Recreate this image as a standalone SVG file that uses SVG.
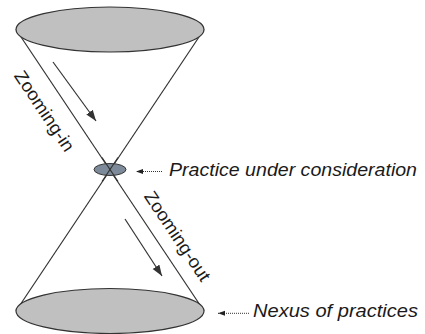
<svg xmlns="http://www.w3.org/2000/svg" width="425" height="334" viewBox="0 0 425 334">
<style>
.edge{stroke:#333;stroke-width:1.2;fill:none}
.cone{stroke:#333;stroke-width:1.2;fill:#c0c0c0}
.lbl{font-family:"Liberation Sans",Arial,sans-serif;font-size:18px;font-style:italic;fill:#1a1a1a}
.side{font-family:"Liberation Sans",Arial,sans-serif;font-size:18px;fill:#1a1a1a}
.flow{stroke:#333;stroke-width:1.2;fill:none;marker-end:url(#big)}
.dot{stroke:#333;stroke-width:1;stroke-dasharray:1 1;fill:none;marker-end:url(#small)}
</style>
<defs>
<marker id="big" markerUnits="userSpaceOnUse" markerWidth="12" markerHeight="10" viewBox="0 0 12 10" refX="11" refY="5" orient="auto">
<path d="M0,1 L11,5 L0,9 Z" fill="#333"/>
</marker>
<marker id="small" markerUnits="userSpaceOnUse" markerWidth="8" markerHeight="6" viewBox="0 0 8 6" refX="7" refY="3" orient="auto">
<path d="M0,0.5 L7,3 L0,5.5 Z" fill="#222"/>
</marker>
</defs>
<rect width="425" height="334" fill="#fff"/>
<g id="connectors">
<line class="edge" x1="16" y1="29.5" x2="204" y2="311"/>
<line class="edge" x1="204" y1="29.5" x2="16" y2="311"/>
<line class="flow" x1="53" y1="62" x2="96" y2="121"/>
<line class="flow" x1="125" y1="219" x2="162" y2="276"/>
<line class="dot" x1="162" y1="171.5" x2="136" y2="171.5"/>
<line class="dot" x1="249" y1="313.3" x2="218" y2="313.3"/>
</g>
<g id="top-ellipse">
<ellipse class="cone" cx="110" cy="29.5" rx="94" ry="22.5"/>
</g>
<g id="bottom-ellipse">
<ellipse class="cone" cx="110" cy="311" rx="94" ry="22.5"/>
</g>
<g id="practice">
<ellipse cx="110" cy="169.5" rx="16" ry="6" fill="#7d8a99" stroke="#333" stroke-width="1"/>
<line class="edge" x1="102" y1="157.5" x2="118" y2="181.5" stroke-width="1"/>
<line class="edge" x1="118" y1="157.5" x2="102" y2="181.5" stroke-width="1"/>
</g>
<g id="zooming-in">
<text class="side" text-anchor="middle" textLength="93" lengthAdjust="spacingAndGlyphs" transform="translate(39.4,114.5) rotate(56.27)">Zooming-in</text>
</g>
<g id="zooming-out">
<text class="side" text-anchor="middle" textLength="104" lengthAdjust="spacingAndGlyphs" transform="translate(172.4,239.5) rotate(56.27)">Zooming-out</text>
</g>
<g id="label-practice">
<text class="lbl" x="169" y="176" textLength="248" lengthAdjust="spacingAndGlyphs">Practice under consideration</text>
</g>
<g id="label-nexus">
<text class="lbl" x="253" y="317.3" textLength="165" lengthAdjust="spacingAndGlyphs">Nexus of practices</text>
</g>
</svg>
